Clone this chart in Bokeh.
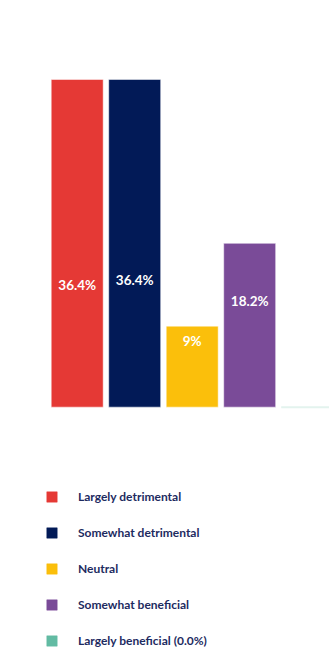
from bokeh.plotting import figure
from bokeh.models import Range1d, ColumnDataSource, Legend, LegendItem
from bokeh.core.properties import value
from bokeh.embed import file_html
from bokeh.resources import INLINE

# Data
categories = ["Largely detrimental", "Somewhat detrimental", "Neutral",
              "Somewhat beneficial", "Largely beneficial (0.0%)"]
values = [36.4, 36.4, 9.0, 18.2, 0.0]
value_labels = ["36.4%", "36.4%", "9%", "18.2%", ""]
colors = ["#e53935", "#021a57", "#fbbf0b", "#7a4b98", "#62bba3"]
# label vertical placement (in %-units from the baseline), as in the reference
label_pos = [13.6, 14.1, 7.4, 11.8, 0.0]

xs = list(range(len(categories)))

p = figure(width=329, height=650, output_backend="svg", toolbar_location=None,
           min_border=0, min_border_left=0, min_border_right=0,
           min_border_top=0, min_border_bottom=0,
           x_range=Range1d(-1.334, 4.388), y_range=Range1d(-27.03, 45.17))
p.axis.visible = False
p.grid.visible = False
p.outline_line_color = None
p.background_fill_color = "white"
p.border_fill_color = "white"

items = []
for i in xs:
    src = ColumnDataSource(dict(x=[i], top=[values[i]]))
    if values[i] > 0:
        p.vbar(x="x", top="top", bottom=0, width=0.904, source=src,
               fill_color=colors[i], line_color="white", line_alpha=0.5, line_width=1)
    else:
        p.vbar(x="x", top="top", bottom=0, width=0.904, source=src,
               fill_color=colors[i], line_color="#e3f3ee", line_width=2)
    # legend swatch: a plain square in the category colour (kept off-screen)
    sw = p.vbar(x=[i], top=[-1000], bottom=[-1001], width=0.5,
                fill_color=colors[i], line_color=colors[i], line_width=0.5)
    items.append(LegendItem(label=categories[i], renderers=[sw]))

tsrc = ColumnDataSource(dict(x=xs, y=label_pos, t=value_labels))
p.text(x="x", y="y", text="t", source=tsrc, text_align="center", text_baseline="middle",
       text_color="white", text_font=value("Lato"), text_font_style="bold",
       text_font_size="13.5px")

legend = Legend(items=items, location=(45, 2), orientation="vertical",
                glyph_width=13, glyph_height=13, label_standoff=20, spacing=21,
                padding=0, margin=0, border_line_color=None,
                background_fill_alpha=0, label_text_font="Lato",
                label_text_font_style="bold",
                label_text_font_size="12px", label_text_color="#1d2b5f",
                label_height=13)
p.add_layout(legend, "center")

html = file_html(p, INLINE)
open("out.html", "w").write(html)
